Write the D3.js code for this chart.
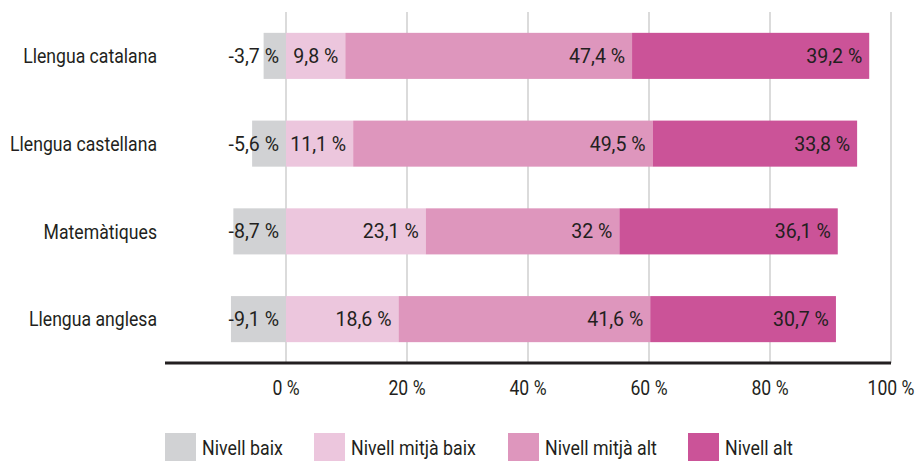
<!DOCTYPE html>
<html>
<head>
<meta charset="utf-8">
<script src="https://cdn.jsdelivr.net/npm/d3@7"></script>
<style>
  body { margin: 0; background: #fff; }
  text { font-family: Roboto, "Liberation Sans", sans-serif; fill: #231f20; }
</style>
</head>
<body>
<div class="div-chart"></div>
<script>
// data
const subjects = ["Llengua catalana", "Llengua castellana", "Matemàtiques", "Llengua anglesa"];
const levels = ["Nivell baix", "Nivell mitjà baix", "Nivell mitjà alt", "Nivell alt"];
const baix = [-3.7, -5.6, -8.7, -9.1];
const mitjaBaix = [9.8, 11.1, 23.1, 18.6];
const mitjaAlt = [47.4, 49.5, 32, 41.6];
const alt = [39.2, 33.8, 36.1, 30.7];
const xTicks = [0, 20, 40, 60, 80, 100];
const colors = ["#d1d2d4", "#ecc6dd", "#de96bd", "#cb5398"];

const width = 917,
  height = 461;

const svg = d3
  .select(".div-chart")
  .append("svg")
  .attr("width", width)
  .attr("height", height);

// the reference uses a condensed face; measure a sample and squeeze to match its width
function fit(sample, size, target) {
  const probe = svg.append("text").attr("font-size", size).text(sample);
  const k = target / probe.node().getComputedTextLength();
  probe.remove();
  return k;
}

// place text at (x,y) and compress it horizontally
function place(sel, fx, fy, k) {
  sel.attr("transform", (d, i) => `translate(${fx(d, i)},${fy(d, i)}) scale(${k},1)`);
}

const x = d3.scaleLinear().domain([-20, 100]).range([165, 891]);

const y = d3
  .scaleBand()
  .domain(subjects)
  .range([12, 363])
  .paddingInner(0.475)
  .paddingOuter(0.2375);

const color = d3.scaleOrdinal().domain(levels).range(colors);

const fmt = (v) => String(v).replace(".", ",") + " %";

// gridlines
svg
  .append("g")
  .selectAll("line")
  .data(xTicks)
  .join("line")
  .attr("x1", (d) => x(d))
  .attr("x2", (d) => x(d))
  .attr("y1", 12)
  .attr("y2", 363)
  .attr("stroke", "#cfcfcf")
  .attr("stroke-width", 1.5);

// build segments: negative one goes left of zero, others stack to the right
const segments = [];
subjects.forEach((s, i) => {
  segments.push({ subject: s, level: levels[0], x0: baix[i], x1: 0, v: baix[i] });
  let acc = 0;
  [mitjaBaix, mitjaAlt, alt].forEach((arr, j) => {
    segments.push({ subject: s, level: levels[j + 1], x0: acc, x1: acc + arr[i], v: arr[i] });
    acc += arr[i];
  });
});

const barG = svg.append("g").attr("id", "bars");

barG
  .selectAll("rect")
  .data(segments)
  .join("rect")
  .attr("x", (d) => x(d.x0))
  .attr("width", (d) => x(d.x1) - x(d.x0))
  .attr("y", (d) => y(d.subject))
  .attr("height", y.bandwidth())
  .attr("fill", (d) => color(d.level));

const kVal = fit("39,2 %", 20, 56);
barG
  .selectAll("text")
  .data(segments)
  .join("text")
  .attr("dy", "0.35em")
  .attr("text-anchor", "end")
  .attr("font-size", 20)
  .text((d) => fmt(d.v))
  .call(place, (d) => x(d.x1) - 7, (d) => y(d.subject) + y.bandwidth() / 2, kVal);

// category labels
const kCat = fit("Llengua catalana", 21, 134);
svg
  .append("g")
  .selectAll("text")
  .data(subjects)
  .join("text")
  .attr("dy", "0.35em")
  .attr("text-anchor", "end")
  .attr("font-size", 21)
  .text((d) => d)
  .call(place, () => 157, (d) => y(d) + y.bandwidth() / 2, kCat);

// x axis
svg
  .append("line")
  .attr("x1", 165)
  .attr("x2", 891)
  .attr("y1", 363)
  .attr("y2", 363)
  .attr("stroke", "#231f20")
  .attr("stroke-width", 3);

const kTick = fit("100 %", 20, 47);
svg
  .append("g")
  .selectAll("text")
  .data(xTicks)
  .join("text")
  .attr("dy", "0.35em")
  .attr("text-anchor", "middle")
  .attr("font-size", 20)
  .text((d) => d + " %")
  .call(place, (d) => x(d), () => 388, kTick);

// legend
const legendX = [165, 314, 508, 688];
const legend = svg
  .append("g")
  .selectAll("g")
  .data(levels)
  .join("g")
  .attr("transform", (d, i) => `translate(${legendX[i]},433)`);

legend
  .append("rect")
  .attr("width", 31)
  .attr("height", 28)
  .attr("fill", (d) => color(d));

const kLeg = fit("Nivell mitjà baix", 21, 125);
legend
  .append("text")
  .attr("dy", "0.35em")
  .attr("font-size", 21)
  .text((d) => d)
  .call(place, () => 37, () => 14.5, kLeg);
</script>
</body>
</html>
